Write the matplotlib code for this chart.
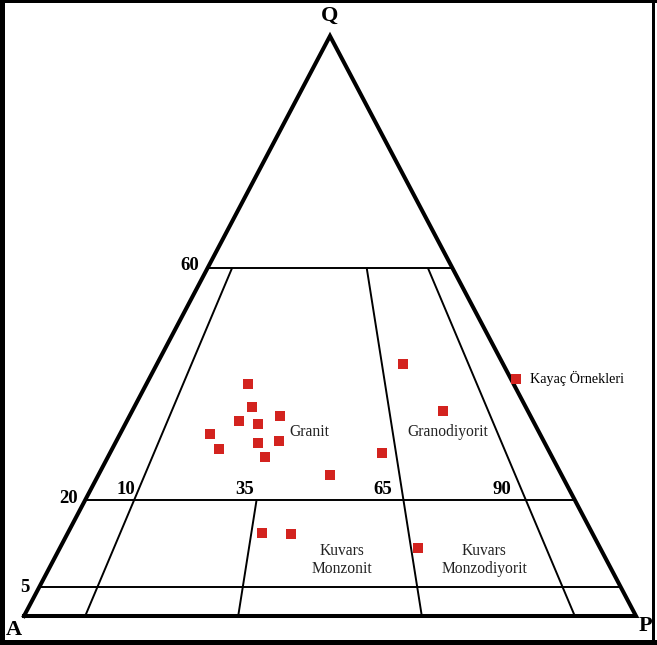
import matplotlib
matplotlib.use("Agg")
import matplotlib.pyplot as plt
from matplotlib.patches import Rectangle

plt.rcParams['font.family'] = ['Liberation Serif', 'DejaVu Serif']

# Modal compositions (%) of the rock samples: Q, A, P
sample_q = [40.0, 36.1, 33.6, 33.1, 34.5, 31.3, 28.8, 29.8, 30.2, 27.4, 24.3, 43.5, 35.4, 28.1, 14.3, 14.1, 11.8]
sample_a = [43.4, 44.7, 48.1, 45.2, 40.9, 53.9, 53.7, 46.8, 43.2, 46.9, 37.9, 16.3, 13.8, 27.5, 54.0, 49.4, 29.8]
sample_p = [16.6, 19.2, 18.3, 21.7, 24.6, 14.8, 17.5, 23.4, 26.6, 25.7, 37.8, 40.2, 50.8, 44.4, 31.7, 36.5, 58.4]

# Field boundaries (Streckeisen QAP)
q_levels = [60, 5, 20]
ratio_full = [10, 65, 90]        # P/(A+P) boundaries from Q=0 to Q=60
ratio_lower = [35]               # P/(A+P) boundary from Q=0 to Q=20
q_labels = ["60", "20", "5"]
ratio_labels = ["10", "35", "65", "90"]
field_names = ["Granit", "Granodiyorit", "Kuvars\nMonzonit", "Kuvars\nMonzodiyorit"]
legend_label = "Kayaç Örnekleri"


def to_xy(q, a, p):
    s = q + a + p
    q, p = q / s, p / s
    return p + q / 2.0, q


W, H = 657, 645
fig = plt.figure(figsize=(W / 100, H / 100), dpi=100)
ax = fig.add_axes([24 / W, 29 / H, 612 / W, 580 / H])
ax.set_xlim(0, 1)
ax.set_ylim(0, 1)
ax.axis('off')

thin = dict(color='black', lw=1.4, solid_capstyle='butt', zorder=2)

# horizontal Q lines
for q in q_levels:
    qf = q / 100
    x0, y0 = to_xy(qf, 1 - qf, 0)
    x1, y1 = to_xy(qf, 0, 1 - qf)
    ax.plot([x0, x1], [y0, y1], **thin)

# P/(A+P) ratio lines
def ratio_line(r, qmax):
    rf = r / 100
    pts = [to_xy(q, (1 - q) * (1 - rf), (1 - q) * rf) for q in (0.0, qmax / 100)]
    ax.plot([pts[0][0], pts[1][0]], [pts[0][1], pts[1][1]], **thin)

for r in ratio_full:
    ratio_line(r, 60)
for r in ratio_lower:
    ratio_line(r, 20)

# outer triangle
ax.plot([0, 1, 0.5, 0], [0, 0, 1, 0], color='black', lw=2.9,
        solid_joinstyle='miter', zorder=3, clip_on=False)

# samples
xs, ys = zip(*[to_xy(q, a, p) for q, a, p in zip(sample_q, sample_a, sample_p)])
pts = ax.scatter(xs, ys, marker='s', s=52, color='#d3231f', edgecolors='none',
                 zorder=4, label=legend_label)

# vertex labels
vfont = dict(fontsize=16, fontweight='bold', ha='center', va='center', clip_on=False)
ax.text(0.5, 1.034, "Q", **vfont)
ax.text(-0.016, -0.024, "A", **vfont)
ax.text(1.016, -0.017, "P", **vfont)

# scale labels
nfont = dict(fontsize=13.5, fontweight='bold', va='center', clip_on=False)
ax.text(0.286, 0.605, q_labels[0], ha='right', **nfont)
ax.text(0.072, 0.202, q_labels[1], ha='center', **nfont)
ax.text(0.002, 0.050, q_labels[2], ha='center', **nfont)
for lab, x in zip(ratio_labels, [0.167, 0.361, 0.587, 0.781]):
    ax.text(x, 0.218, lab, ha='center', **nfont)

# field names
ffont = dict(fontsize=11.2, ha='center', va='center', color='#222222', linespacing=1.15)
ax.text(0.466, 0.317, field_names[0], **ffont)
ax.text(0.693, 0.317, field_names[1], **ffont)
ax.text(0.520, 0.097, field_names[2], **ffont)
ax.text(0.752, 0.097, field_names[3], **ffont)

ax.legend(handles=[pts], loc='center left',
          bbox_to_anchor=(510.5 / W, 1 - 378 / H), bbox_transform=fig.transFigure,
          frameon=False, borderpad=0, borderaxespad=0, handlelength=0.8,
          handletextpad=0.55, scatterpoints=1,
          prop={'family': 'Liberation Serif', 'size': 10.2})

# image frame
for x, y, w, h in [(0, 0, 5, H), (0, 0, W, 5), (0, H - 3, W, 3), (W - 5, 0, 3, H)]:
    fig.add_artist(Rectangle((x / W, y / H), w / W, h / H, transform=fig.transFigure,
                             facecolor='black', edgecolor='none'))

fig.savefig("out.png", dpi=100)
